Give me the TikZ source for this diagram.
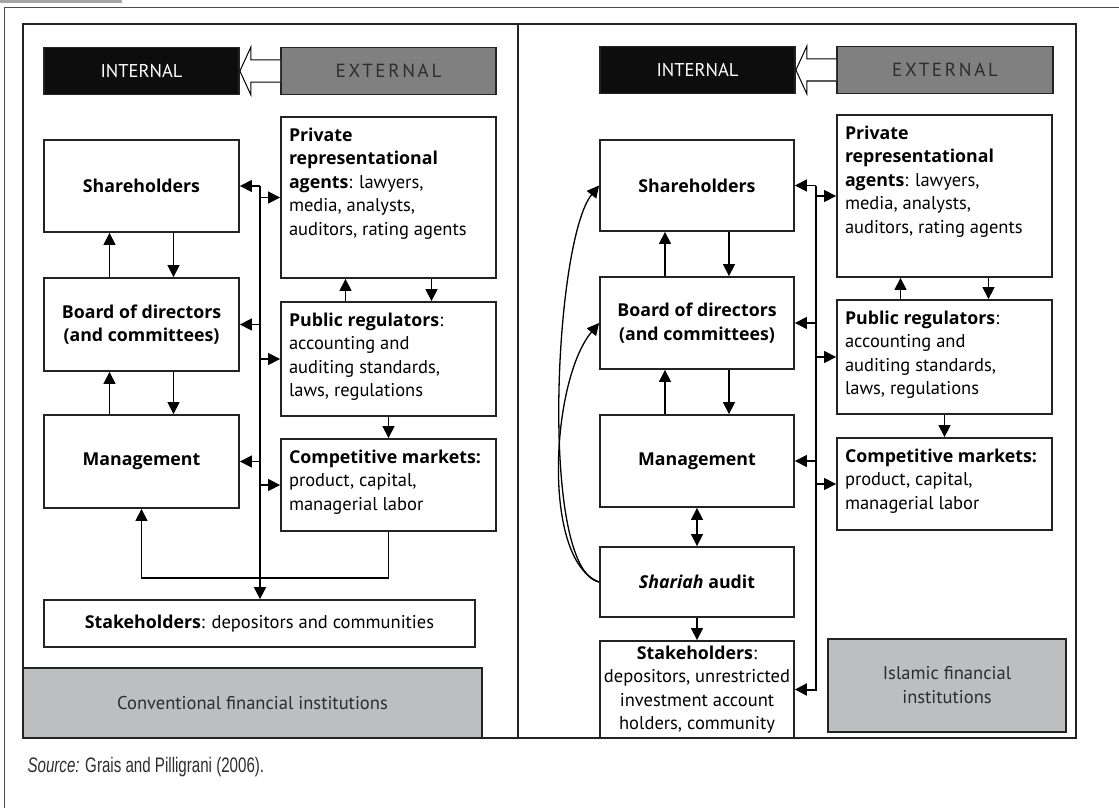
\documentclass[tikz,border=0pt]{standalone}
\usepackage{fontspec}
\setmainfont{PT Sans}[BoldFont={Open Sans Bold},BoldItalicFont={Open Sans Bold Italic},BoldFeatures={Scale=0.96},BoldItalicFeatures={Scale=0.96}]
\newfontfamily\srcfont[FakeStretch=0.72]{Liberation Sans}
\usetikzlibrary{arrows.meta,calc}
\definecolor{extgray}{RGB}{128, 128, 128}
\definecolor{instgray}{RGB}{189, 190, 192}
\definecolor{framegray}{RGB}{35, 35, 35}
\definecolor{textgray}{RGB}{45, 45, 45}
\newcommand{\boxtxt}[3]{\parbox[c][#2pt][t]{#1pt}{\raggedright\strut #3}}

\begin{document}
\begin{tikzpicture}[x=1pt,y=-1pt,>={Triangle[length=12pt,width=12pt]}]

\tikzstyle{block} = [draw=framegray, line width=1.8, inner sep=2, align=center,
font=\fontsize{18.5}{23.5}\selectfont]
\tikzstyle{ext_block} = [draw=framegray, line width=1.8, inner xsep=8, inner ysep=8,
font=\fontsize{18.5}{23.5}\selectfont]
\tikzstyle{black_block} = [draw=framegray, line width=1.8, fill=black!95, text=white,
minimum width=195, minimum height=47, font=\fontsize{18.5}{22}\selectfont]
\tikzstyle{gray_block} = [draw=framegray, line width=1.8, fill=extgray, text=textgray,
minimum width=215, minimum height=47,
font=\fontsize{19}{22}\selectfont\addfontfeatures{LetterSpace=14}]
\tikzstyle{inst_block} = [draw=framegray, line width=1.8, fill=instgray, text=textgray,
align=center, font=\fontsize{18.5}{24}\selectfont]
\tikzstyle{link} = [->, line width=1.3, black]
\tikzstyle{bus} = [->, line width=2, black]
\tikzstyle{hollow} = [draw=black, line width=1, fill=white]

\useasboundingbox (0,0) rectangle (1119,808);

% page frame
\fill[black!35] (0,0) rectangle (122,3);
\draw[line width=1, black!70] (1119,8) -- (4,8) -- (4,808);
\draw[line width=1.8, framegray] (23,24) rectangle (1076,738);
\draw[line width=1.8, framegray] (518,24) -- (518,738);

\coordinate (lbus) at (260,0);
\coordinate (rbus) at (816,0);

%%%%% conventional
\node [black_block] (lint) at (141.5,71) {INTERNAL};
\node [gray_block] (lext) at (388.5,71) {EXTERNAL};
\draw[hollow] ($(lext.west)+(0,11)$) -- ($(lint.east)+(11,11)$) -- ($(lint.east)+(11,24)$)
-- (lint.east) -- ($(lint.east)+(11,-24)$) -- ($(lint.east)+(11,-11)$) -- ($(lext.west)+(0,-11)$);

\node [block, minimum width=195, minimum height=92] (lsh) at (141.5,186) {\textbf{Shareholders}};
\node [block, minimum width=195, minimum height=93] (lbd) at (141.5,324.5) {\textbf{Board of directors}\\ \textbf{(and committees)}};
\node [block, minimum width=195, minimum height=93] (lmg) at (141.5,461.5) {\textbf{Management}};

\node [ext_block] (lpriv) at (388.5,197.5) {\boxtxt{199}{145}{\textbf{Private}\\ \textbf{representational}\\ \textbf{agents}: lawyers,\\ media, analysts,\\ auditors, rating agents}};
\node [ext_block] (lpub) at (388.5,359) {\boxtxt{199}{98}{\textbf{Public regulators}:\\ accounting and\\ auditing standards,\\ laws, regulations}};
\node [ext_block] (lcomp) at (388.5,485) {\boxtxt{199}{76}{\textbf{Competitive markets:}\\ product, capital,\\ managerial labor}};

\node [block, minimum width=431, minimum height=47] (lstk) at (259.5,623.5) {\textbf{Stakeholders}: depositors and communities};
\node [inst_block, minimum width=459, minimum height=70] (lfi) at (252.5,703) {Conventional financial institutions};

\draw[link] ([xshift=32]lsh.south) -- ([xshift=32]lbd.north);
\draw[link] ([xshift=-32]lbd.north) -- ([xshift=-32]lsh.south);
\draw[link] ([xshift=32]lbd.south) -- ([xshift=32]lmg.north);
\draw[link] ([xshift=-32]lmg.north) -- ([xshift=-32]lbd.south);
\draw[link] ([xshift=43]lpriv.south) -- ([xshift=43]lpub.north);
\draw[link] ([xshift=-43]lpub.north) -- ([xshift=-43]lpriv.south);
\draw[link] (lpub) -- (lcomp);
\draw[link] (lcomp.south) -- ++(0,46) -| (lmg.south);

\draw[bus] (lsh.east -| lbus) -- (lstk.north -| lbus);
\draw[link] (lsh.east -| lbus) -- (lsh.east);
\draw[link] (lpriv.west -| lbus) -- (lpriv.west);
\draw[link] (lbd.east -| lbus) -- (lbd.east);
\draw[link] (lpub.west -| lbus) -- (lpub.west);
\draw[link] (lmg.east -| lbus) -- (lmg.east);
\draw[link] (lcomp.west -| lbus) -- (lcomp.west);

%%%%% islamic
\node [black_block] (rint) at (697.5,70) {INTERNAL};
\node [gray_block, minimum width=216] (rext) at (945,70) {EXTERNAL};
\draw[hollow] ($(rext.west)+(0,11)$) -- ($(rint.east)+(11,11)$) -- ($(rint.east)+(11,24)$)
-- (rint.east) -- ($(rint.east)+(11,-24)$) -- ($(rint.east)+(11,-11)$) -- ($(rext.west)+(0,-11)$);

\node [block, minimum width=194, minimum height=91] (rsh) at (697,185.5) {\textbf{Shareholders}};
\node [block, minimum width=194, minimum height=92] (rbd) at (697,323) {\textbf{Board of directors}\\ \textbf{(and committees)}};
\node [block, minimum width=194, minimum height=92] (rmg) at (697,461) {\textbf{Management}};
\node [block, minimum width=194, minimum height=70] (rsa) at (697,582) {\textbf{\textit{Shariah} audit}};
\node [block, minimum width=194, minimum height=97] (rstk) at (697,689.5) {\textbf{Stakeholders}:\\ depositors, unrestricted\\ investment account\\ holders, community};

\node [ext_block] (rpriv) at (944.5,196) {\boxtxt{199}{146}{\textbf{Private}\\ \textbf{representational}\\ \textbf{agents}: lawyers,\\ media, analysts,\\ auditors, rating agents}};
\node [ext_block] (rpub) at (944.5,357) {\boxtxt{199}{98}{\textbf{Public regulators}:\\ accounting and\\ auditing standards,\\ laws, regulations}};
\node [ext_block] (rcomp) at (944.5,484) {\boxtxt{199}{76}{\textbf{Competitive markets:}\\ product, capital,\\ managerial labor}};
\node [inst_block, minimum width=238, minimum height=93] (rfi) at (947,685.5) {Islamic financial\\ institutions};

\draw[link] ([xshift=32]rsh.south) -- ([xshift=32]rbd.north);
\draw[link] ([xshift=-32]rbd.north) -- ([xshift=-32]rsh.south);
\draw[link] ([xshift=32]rbd.south) -- ([xshift=32]rmg.north);
\draw[link] ([xshift=-32]rmg.north) -- ([xshift=-32]rbd.south);
\draw[link, <->] (rmg) -- (rsa);
\draw[link] (rsa) -- (rstk);
\draw[link] ([xshift=44]rpriv.south) -- ([xshift=44]rpub.north);
\draw[link] ([xshift=-44]rpub.north) -- ([xshift=-44]rpriv.south);
\draw[link] (rpub) -- (rcomp);

\draw[link] (rsa.west) .. controls ($(rsa.west)+(-60,-12)$) and ($(rsh.west)+(-45,55)$) .. (rsh.west);
\draw[link] (rsa.west) .. controls ($(rsa.west)+(-58,-22)$) and ($(rbd.west)+(-48,57)$) .. (rbd.west);

\draw[bus] (rsh.east -| rbus) |- (rstk.east);
\draw[link] (rsh.east -| rbus) -- (rsh.east);
\draw[link] (rpriv.west -| rbus) -- (rpriv.west);
\draw[link] (rbd.east -| rbus) -- (rbd.east);
\draw[link] (rpub.west -| rbus) -- (rpub.west);
\draw[link] (rmg.east -| rbus) -- (rmg.east);
\draw[link] (rcomp.west -| rbus) -- (rcomp.west);

\node [anchor=west, text=textgray, font=\srcfont\fontsize{21}{24}\selectfont] (src) at (24,767) {\textit{Source:} Grais and Pilligrani (2006).};

\end{tikzpicture}
\end{document}
